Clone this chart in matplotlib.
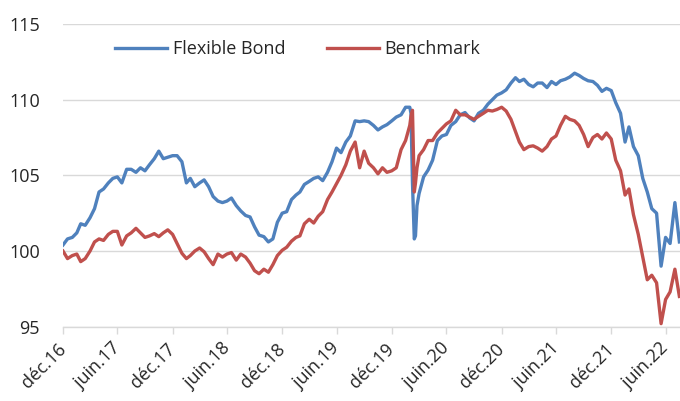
import pandas as pd
import matplotlib
matplotlib.use('Agg')
import matplotlib.pyplot as plt
from matplotlib.transforms import ScaledTranslation

plt.rcParams['font.family'] = ['Open Sans', 'DejaVu Sans']

# semi-monthly readings (15th and month end), 2016-12-31 .. 2022-08-15
flexible_bond = [
    100.4, 100.8, 100.9, 101.2, 101.8, 101.7, 102.2, 102.8, 103.9, 104.1,
    104.5, 104.8, 104.9, 104.5, 105.4, 105.4, 105.2, 105.5, 105.3, 105.7,
    106.1, 106.6, 106.1, 106.2, 106.3, 106.3, 105.9, 104.5, 104.8, 104.25,
    104.5, 104.7, 104.25, 103.6, 103.3, 103.2, 103.3, 103.5, 103.0, 102.65,
    102.35, 102.25, 101.6, 101.05, 100.95, 100.6, 100.8, 101.9, 102.5, 102.6,
    103.4, 103.7, 103.9, 104.4, 104.6, 104.8, 104.9, 104.65, 105.2, 105.9,
    106.8, 106.5, 107.2, 107.6, 108.6, 108.55, 108.6, 108.55, 108.3, 108.0,
    108.2, 108.35, 108.6, 108.85, 109.0, 109.5, 109.5, 100.8, 103.8, 104.9,
    105.35, 106.0, 107.3, 107.6, 107.7, 108.3, 108.55, 109.0, 109.15, 108.8,
    108.6, 109.1, 109.3, 109.7, 110.0, 110.3, 110.45, 110.65, 111.1, 111.45,
    111.2, 111.35, 111.0, 110.85, 111.1, 111.1, 110.8, 111.2, 111.0, 111.25,
    111.35, 111.5, 111.75, 111.6, 111.4, 111.25, 111.2, 110.95, 110.55, 110.75,
    110.6, 109.8, 109.1, 107.2, 108.2, 106.9, 106.3, 104.8, 103.9, 102.8,
    102.5, 99.0, 100.9, 100.5, 103.2, 100.6,
]
benchmark = [
    100.0, 99.5, 99.7, 99.8, 99.3, 99.5, 100.0, 100.6, 100.8, 100.7,
    101.1, 101.3, 101.3, 100.4, 101.0, 101.2, 101.5, 101.2, 100.9, 101.0,
    101.15, 100.95, 101.2, 101.4, 101.1, 100.5, 99.85, 99.5, 99.7, 100.0,
    100.2, 99.95, 99.5, 99.1, 99.8, 99.6, 99.8, 99.9, 99.4, 99.8,
    99.6, 99.2, 98.7, 98.5, 98.8, 98.6, 99.1, 99.7, 100.05, 100.25,
    100.65, 100.9, 101.0, 101.8, 102.1, 101.85, 102.3, 102.6, 103.4, 103.9,
    104.45, 105.0, 105.7, 106.6, 107.2, 105.5, 106.6, 105.8, 105.5, 105.1,
    105.5, 105.2, 105.3, 105.5, 106.7, 107.3, 108.3, 103.9, 106.3, 106.7,
    107.3, 107.3, 107.8, 108.1, 108.4, 108.6, 109.3, 109.0, 109.0, 108.85,
    108.7, 108.9, 109.1, 109.3, 109.25, 109.35, 109.5, 109.25, 108.7, 107.9,
    107.2, 106.7, 106.9, 106.95, 106.8, 106.6, 106.9, 107.4, 107.6, 108.3,
    108.9, 108.7, 108.6, 108.3, 107.7, 106.9, 107.5, 107.7, 107.4, 107.8,
    107.4, 106.0, 105.3, 103.7, 104.1, 102.4, 101.1, 99.6, 98.1, 98.4,
    97.9, 95.2, 96.8, 97.3, 98.8, 97.0,
]

# extra readings around the March 2020 crash
crash_dates = ['2020-03-04', '2020-03-09', '2020-03-19', '2020-03-24']
crash_flexible = [109.1, 104.5, 101.0, 103.0]
crash_benchmark = [108.9, 109.3, 104.5, 105.5]

tick_dates = ['2016-12-31', '2017-06-30', '2017-12-31', '2018-06-30',
              '2018-12-31', '2019-06-30', '2019-12-31', '2020-06-30',
              '2020-12-31', '2021-06-30', '2021-12-31', '2022-06-30']
tick_labels = ['déc.16', 'juin.17', 'déc.17', 'juin.18', 'déc.18', 'juin.19',
               'déc.19', 'juin.20', 'déc.20', 'juin.21', 'déc.21', 'juin.22']

dates = []
for p in pd.period_range('2016-12', '2022-08', freq='M'):
    start = p.to_timestamp()
    dates.append(start + pd.Timedelta(days=14))
    dates.append(p.to_timestamp(how='end').normalize())
dates = dates[1:-1]

df = pd.DataFrame({'date': dates, 'flex': flexible_bond, 'bench': benchmark})
extra = pd.DataFrame({'date': pd.to_datetime(crash_dates),
                      'flex': crash_flexible, 'bench': crash_benchmark})
df = pd.concat([df, extra]).sort_values('date')

fig = plt.figure(figsize=(6.8, 4.01), dpi=100)
ax = fig.add_axes([63 / 680, 74.3 / 401, 617 / 680, 302.7 / 401])

ax.plot(df['date'], df['flex'], color='#4F81BD', lw=2.4, label='Flexible Bond')
ax.plot(df['date'], df['bench'], color='#C0504D', lw=2.4, label='Benchmark')

ax.set_ylim(95, 115)
ax.set_yticks([95, 100, 105, 110, 115])
ax.set_xlim(pd.Timestamp('2016-12-31'), pd.Timestamp('2022-08-17'))
ax.set_xticks(pd.to_datetime(tick_dates))
ax.set_xticklabels(tick_labels, rotation=45, ha='right', va='center',
                   rotation_mode='anchor')
shift = ScaledTranslation(4 / 100, -4 / 100, fig.dpi_scale_trans)
for lbl in ax.get_xticklabels():
    lbl.set_transform(lbl.get_transform() + shift)

ax.set_axisbelow(True)
ax.grid(axis='y', color='#D9D9D9', lw=1)
for side in ['top', 'right', 'left']:
    ax.spines[side].set_visible(False)
ax.spines['bottom'].set_color('#D9D9D9')
ax.spines['bottom'].set_linewidth(1)

ax.tick_params(axis='y', length=0, pad=16.5, labelsize=13, colors='#262626')
ax.tick_params(axis='x', length=5, width=1, color='#D9D9D9', pad=9,
               labelsize=13, labelcolor='#262626')

ax.legend(ncol=2, frameon=False, loc='center left',
          bbox_to_anchor=(0.0843, 0.917), handlelength=2.9,
          handletextpad=0.3, columnspacing=2.3, borderpad=0,
          borderaxespad=0, fontsize=13, labelcolor='#262626')

fig.savefig('out.png', dpi=100)
